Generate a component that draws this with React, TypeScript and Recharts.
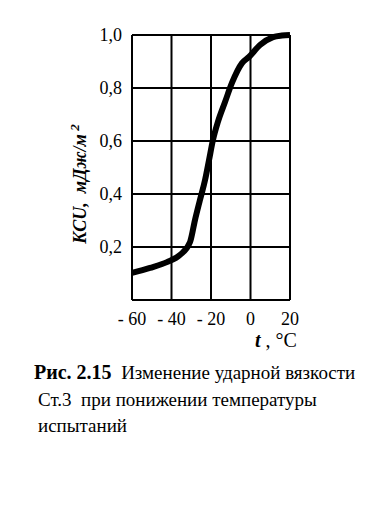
import { CartesianGrid, Line, LineChart, XAxis, YAxis } from "recharts"

/******************************************************************************
                              Data
******************************************************************************/

const TEMPS = [-60, -50.9, -42.3, -35.7, -30.6, -28.1, -25.6, -23.0, -21.0, -19.0, -16.5, -12.9, -9.4, -4.3, -0.8, 4.8, 11.4, 15.9, 20]
const KCU = [0.102, 0.121, 0.143, 0.17, 0.219, 0.302, 0.377, 0.453, 0.528, 0.604, 0.672, 0.747, 0.819, 0.894, 0.917, 0.962, 0.992, 0.998, 1.0]
const X_TICKS = [-60, -40, -20, 0, 20]
const Y_TICKS = [0, 0.2, 0.4, 0.6, 0.8, 1.0]

const CAPTION_FIG = "Рис. 2.15"
const CAPTION_LINES = ["Изменение ударной вязкости", "Ст.3  при понижении температуры", "испытаний"]

const FONT = "Liberation Serif, Times New Roman, serif"

const data = TEMPS.map((t, i) => ({ t, kcu: KCU[i] }))

/******************************************************************************
                              Functions
******************************************************************************/

function fmtX(v: number): string {
  return v < 0 ? `- ${-v}` : `${v}`
}

function fmtY(v: number): string {
  return v === 0 ? "" : v.toFixed(1).replace(".", ",")
}

function YTitle() {
  return (
    <text
      transform="translate(86,184) rotate(-90)"
      textAnchor="middle"
      fontFamily={FONT}
      fontSize={18}
      fontWeight="bold"
      fontStyle="italic"
      fill="#000"
      style={{ whiteSpace: "pre" }}
    >
      {"KCU,  мДж/м"}
      <tspan dy={-7} fontSize={13}>{" 2"}</tspan>
    </text>
  )
}

function XTitle() {
  return (
    <text x={255} y={347} fontFamily={FONT} fontSize={20} fill="#000">
      <tspan fontWeight="bold" fontStyle="italic">t</tspan>
      <tspan> , °C</tspan>
    </text>
  )
}

/******************************************************************************
                              Components
******************************************************************************/

export default function App() {
  return (
    <div style={{ position: "absolute", left: 0, top: 0, width: 383, height: 505, background: "#fff" }}>
      <LineChart
        width={383}
        height={505}
        data={data}
        margin={{ top: 35, right: 93, left: 0, bottom: 175 }}
      >
        <CartesianGrid stroke="#000" strokeWidth={2} strokeOpacity={1} />
        <XAxis
          type="number"
          dataKey="t"
          domain={[-60, 20]}
          ticks={X_TICKS}
          tickFormatter={fmtX}
          height={30}
          tickLine={false}
          tickMargin={6}
          axisLine={{ stroke: "#000", strokeWidth: 2 }}
          tick={{ fill: "#000", fontSize: 18, fontFamily: FONT }}
          label={{ content: XTitle }}
        />
        <YAxis
          type="number"
          domain={[0, 1]}
          ticks={Y_TICKS}
          tickFormatter={fmtY}
          width={132}
          tickLine={false}
          tickMargin={4}
          axisLine={{ stroke: "#000", strokeWidth: 2 }}
          tick={{ fill: "#000", fontSize: 18, fontFamily: FONT }}
          label={{ content: YTitle }}
        />
        <Line
          type="monotone"
          dataKey="kcu"
          stroke="#000"
          strokeWidth={6}
          dot={false}
          isAnimationActive={false}
        />
      </LineChart>
      <svg
        width={383}
        height={140}
        style={{ position: "absolute", left: 0, top: 355 }}
        fontFamily={FONT}
        fill="#000"
      >
        <text x={34} y={24} style={{ whiteSpace: "pre" }}>
          <tspan fontSize={20} fontWeight="bold">{CAPTION_FIG}</tspan>
          <tspan fontSize={19}>{"  " + CAPTION_LINES[0]}</tspan>
        </text>
        <text x={38} y={51} fontSize={19} style={{ whiteSpace: "pre" }}>
          {CAPTION_LINES[1]}
        </text>
        <text x={38} y={77} fontSize={19}>
          {CAPTION_LINES[2]}
        </text>
      </svg>
    </div>
  )
}
